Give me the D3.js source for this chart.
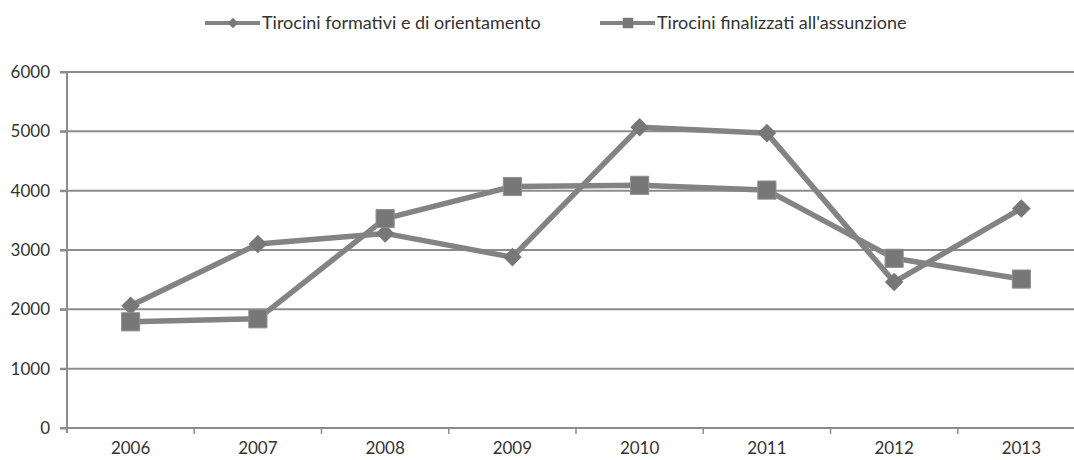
<html>

<head>
  <title>Tirocini</title>
  <script src="https://d3js.org/d3.v7.min.js"></script>
  <style>
    body {
      margin: 0;
      background: #fff;
    }

    svg text {
      font-family: Lato, "Open Sans", sans-serif;
      fill: #333;
    }
  </style>
</head>

<body>
  <svg id="root" width="1074" height="460"></svg>
  <script>
    var years = ['2006', '2007', '2008', '2009', '2010', '2011', '2012', '2013'];
    var formativi = [2060, 3100, 3280, 2880, 5070, 4970, 2460, 3700];
    var finalizzati = [1790, 1840, 3530, 4070, 4090, 4010, 2860, 2510];
    var yTicks = [0, 1000, 2000, 3000, 4000, 5000, 6000];
    var seriesNames = ['Tirocini formativi e di orientamento', "Tirocini finalizzati all'assunzione"];

    var svg = d3.select('svg#root');
    var lineColor = '#838383';
    var gridColor = '#8c8c8c';

    // plot area runs past the right edge, as in the scan
    var scaleX = d3.scaleBand().domain(years).range([67, 1085]);
    var scaleY = d3.scaleLinear().domain([0, 6000]).range([428, 72]);

    // gridlines
    svg.append('g')
      .selectAll('line')
      .data(yTicks)
      .enter()
      .append('line')
      .attr('x1', 60)
      .attr('x2', 1074)
      .attr('y1', function (d) { return scaleY(d); })
      .attr('y2', function (d) { return scaleY(d); })
      .attr('stroke', gridColor)
      .attr('stroke-width', 2);

    // y axis
    var yAxis = svg.append('g')
      .attr('transform', 'translate(67,0)')
      .call(d3.axisLeft(scaleY).tickValues(yTicks).tickFormat(d3.format('d')).tickSize(7).tickPadding(10));
    yAxis.select('.domain').attr('stroke', gridColor).attr('stroke-width', 2)
      .attr('d', 'M0,' + scaleY(6000) + 'V' + (scaleY(0) + 5));
    yAxis.selectAll('.tick line').attr('stroke', gridColor).attr('stroke-width', 2);
    yAxis.selectAll('.tick text').attr('font-size', 17).style('fill', '#333');

    // x axis: ticks on band boundaries, labels in the middle
    var xg = svg.append('g').attr('transform', 'translate(0,' + scaleY(0) + ')');
    xg.selectAll('line')
      .data(years.slice(1))
      .enter()
      .append('line')
      .attr('x1', function (d) { return scaleX(d); })
      .attr('x2', function (d) { return scaleX(d); })
      .attr('y1', 0)
      .attr('y2', 6)
      .attr('stroke', gridColor)
      .attr('stroke-width', 1.5);
    xg.selectAll('text')
      .data(years)
      .enter()
      .append('text')
      .attr('x', function (d) { return scaleX(d) + scaleX.bandwidth() / 2; })
      .attr('y', 26)
      .attr('text-anchor', 'middle')
      .attr('font-size', 17)
      .text(function (d) { return d; });

    function cx(d, i) { return scaleX(years[i]) + scaleX.bandwidth() / 2; }

    var line = d3.line()
      .x(function (d, i) { return cx(d, i); })
      .y(function (d) { return scaleY(d); });

    [formativi, finalizzati].forEach(function (values) {
      svg.append('path')
        .datum(values)
        .attr('fill', 'none')
        .attr('stroke', lineColor)
        .attr('stroke-width', 5.5)
        .attr('stroke-linejoin', 'round')
        .attr('d', line);
    });

    var diamond = d3.symbol().type(d3.symbolDiamond2).size(220);
    var square = d3.symbol().type(d3.symbolSquare).size(330);

    svg.append('g')
      .selectAll('path')
      .data(formativi)
      .enter()
      .append('path')
      .attr('d', diamond)
      .attr('fill', '#777')
      .attr('transform', function (d, i) { return 'translate(' + cx(d, i) + ',' + scaleY(d) + ')'; });

    svg.append('g')
      .selectAll('path')
      .data(finalizzati)
      .enter()
      .append('path')
      .attr('d', square)
      .attr('fill', '#777')
      .attr('stroke', '#909090')
      .attr('stroke-width', 1)
      .attr('transform', function (d, i) { return 'translate(' + cx(d, i) + ',' + scaleY(d) + ')'; });

    // legend
    var legendX = [205, 600];
    var legend = svg.append('g').selectAll('g')
      .data(seriesNames)
      .enter()
      .append('g')
      .attr('transform', function (d, i) { return 'translate(' + legendX[i] + ',23)'; });
    legend.append('line')
      .attr('x1', 0)
      .attr('x2', 55)
      .attr('stroke', lineColor)
      .attr('stroke-width', 4);
    legend.append('path')
      .attr('d', function (d, i) {
        return i === 0 ? d3.symbol().type(d3.symbolDiamond2).size(70)() : d3.symbol().type(d3.symbolSquare).size(110)();
      })
      .attr('transform', 'translate(28,0)')
      .attr('fill', '#777');
    legend.append('text')
      .attr('x', 57)
      .attr('y', 6)
      .attr('font-size', 18)
      .text(function (d) { return d; });
  </script>
</body>

</html>
